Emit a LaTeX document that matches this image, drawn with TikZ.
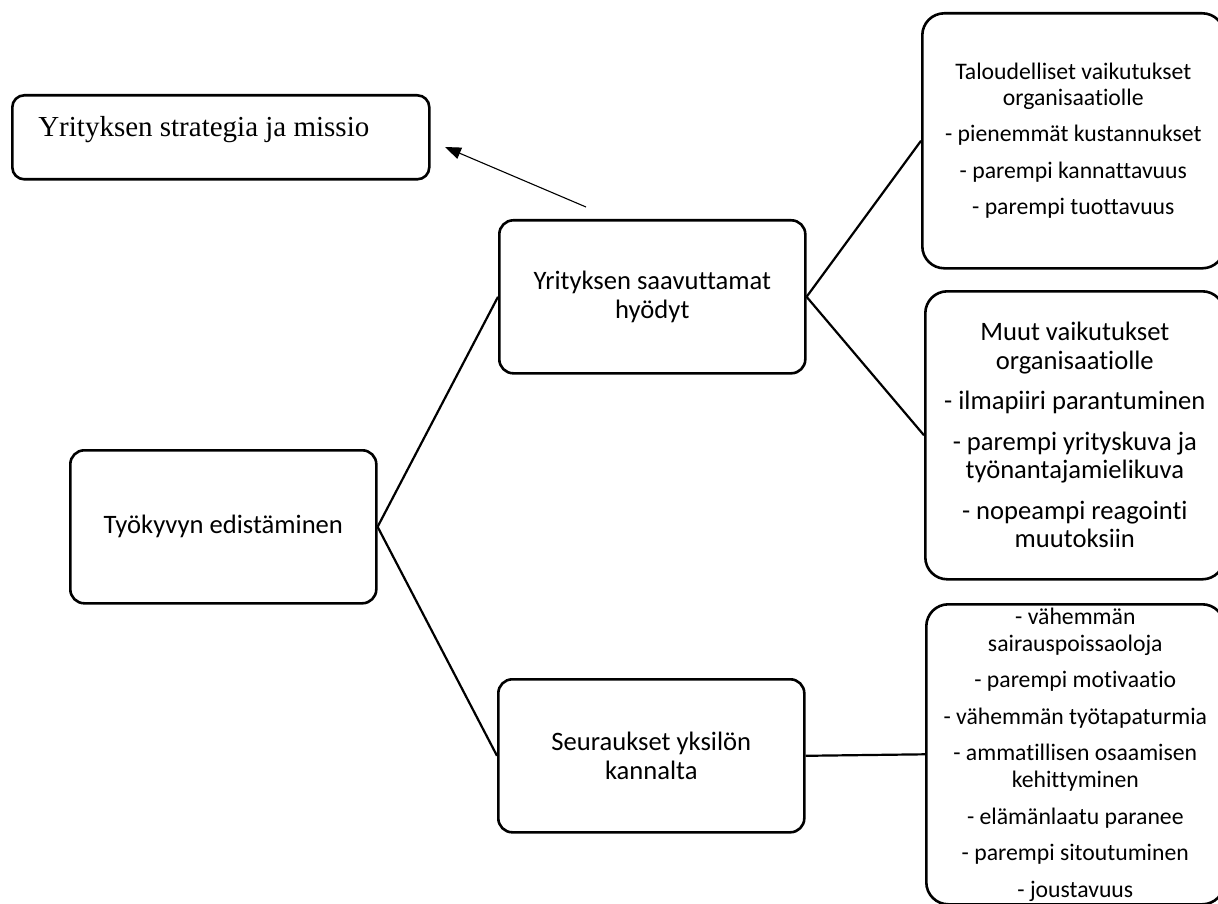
\documentclass[tikz,border=0pt]{standalone}
\usepackage{fontspec}
\setmainfont[Ligatures=NoCommon]{Carlito}
\newfontfamily\timesfont{Liberation Serif}
\usetikzlibrary{arrows.meta}

\tikzset{
    box/.style={draw, line width=2.6pt, rounded corners=14pt, inner sep=0pt, align=center, anchor=north west},
    bigbox/.style={box, rounded corners=22pt},
    link/.style={line width=2.2pt},
}

\begin{document}
\begin{tikzpicture}[x=1pt, y=-1pt]
            \useasboundingbox (0,0) rectangle (1218,904);

            \coordinate (s1) at (11,94);
            \coordinate (s2) at (69,449);
            \coordinate (s3) at (498,219);
            \coordinate (s4) at (497,678);
            \coordinate (s5) at (921,12);
            \coordinate (s6) at (924,290);
            \coordinate (s7) at (925,603);
            \coordinate (tail) at (586,207);
            \coordinate (tip) at (445,147);

            \node[box, rounded corners=12pt] (strategia) at (s1) {\parbox[c][84pt][t]{417pt}{\timesfont\fontsize{29}{34}\selectfont\hspace*{26pt}\rule{0pt}{41pt}Yrityksen strategia ja missio}};

            \node[box, minimum width=306pt, minimum height=153pt, font=\fontsize{26.6}{29}\selectfont] (tyokyky) at (s2) {Työkyvyn edistäminen};
            \node[box, minimum width=306pt, minimum height=153pt, font=\fontsize{26.6}{29}\selectfont] (hyodyt) at (s3) {Yrityksen saavuttamat\\hyödyt};
            \node[box, minimum width=306pt, minimum height=153pt, font=\fontsize{26.6}{29}\selectfont] (seuraukset) at (s4) {Seuraukset yksilön\\kannalta};

            \node[bigbox, minimum width=302pt, minimum height=255pt, font=\fontsize{23.7}{26}\selectfont] (talous) at (s5) {Taloudelliset vaikutukset\\organisaatiolle\\[10.5pt]- pienemmät kustannukset\\[10.5pt]- parempi kannattavuus\\[10.5pt]- parempi tuottavuus};
            \node[bigbox, minimum width=299pt, minimum height=288pt, font=\fontsize{26.6}{28.5}\selectfont] (muut) at (s6) {Muut vaikutukset\\organisaatiolle\\[12pt]- ilmapiiri parantuminen\\[12pt]- parempi yrityskuva ja\\työnantajamielikuva\\[12pt]- nopeampi reagointi\\muutoksiin};
            \node[bigbox, minimum width=298pt, minimum height=300pt, font=\fontsize{23.7}{27}\selectfont] (yksilo) at (s7) {- vähemmän\\sairauspoissaoloja\\[9.5pt]- parempi motivaatio\\[9.5pt]- vähemmän työtapaturmia\\[9.5pt]- ammatillisen osaamisen\\kehittyminen\\[9.5pt]- elämänlaatu paranee\\[9.5pt]- parempi sitoutuminen\\[9.5pt]- joustavuus};

            \draw[link] (tyokyky.east) -- (hyodyt.west);
            \draw[link] (tyokyky.east) -- (seuraukset.west);
            \draw[link] (hyodyt.east) -- (talous.west);
            \draw[link] (hyodyt.east) -- (muut.west);
            \draw[link] (seuraukset.east) -- (yksilo.west);
            \draw[line width=1.1pt, -{Triangle[length=16pt, width=12pt]}] (tail) -- (tip);
\end{tikzpicture}
\end{document}
